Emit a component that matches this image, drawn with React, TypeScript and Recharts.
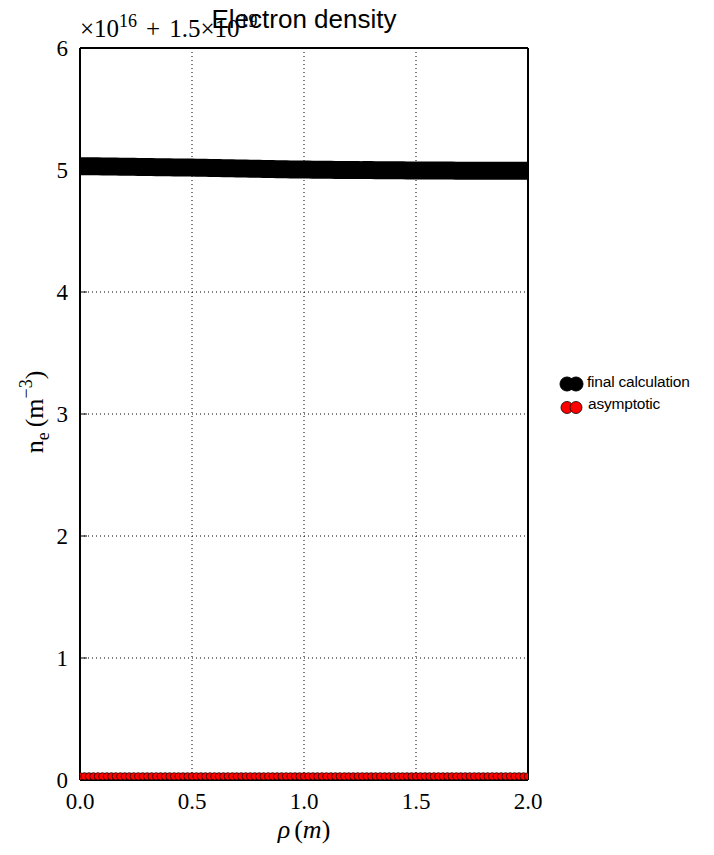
import React from "react";
import { ComposedChart, Line, XAxis, YAxis, CartesianGrid, Legend } from "recharts";

// radius grid (m)
const rho = [
  0, 0.02, 0.04, 0.06, 0.08, 0.1, 0.12, 0.14, 0.16, 0.18,
  0.2, 0.22, 0.24, 0.26, 0.28, 0.3, 0.32, 0.34, 0.36, 0.38,
  0.4, 0.42, 0.44, 0.46, 0.48, 0.5, 0.52, 0.54, 0.56, 0.58,
  0.6, 0.62, 0.64, 0.66, 0.68, 0.7, 0.72, 0.74, 0.76, 0.78,
  0.8, 0.82, 0.84, 0.86, 0.88, 0.9, 0.92, 0.94, 0.96, 0.98,
  1, 1.02, 1.04, 1.06, 1.08, 1.1, 1.12, 1.14, 1.16, 1.18,
  1.2, 1.22, 1.24, 1.26, 1.28, 1.3, 1.32, 1.34, 1.36, 1.38,
  1.4, 1.42, 1.44, 1.46, 1.48, 1.5, 1.52, 1.54, 1.56, 1.58,
  1.6, 1.62, 1.64, 1.66, 1.68, 1.7, 1.72, 1.74, 1.76, 1.78,
  1.8, 1.82, 1.84, 1.86, 1.88, 1.9, 1.92, 1.94, 1.96, 1.98,
  2,
];

// n_e - 1.5e19, in units of 1e16 m^-3
const finalCalculation = [
  5.031, 5.031, 5.03, 5.03, 5.03, 5.029, 5.029, 5.028, 5.028, 5.027,
  5.027, 5.026, 5.026, 5.025, 5.025, 5.024, 5.024, 5.023, 5.023, 5.022,
  5.022, 5.021, 5.021, 5.02, 5.02, 5.02, 5.019, 5.018, 5.018, 5.017,
  5.016, 5.016, 5.015, 5.014, 5.014, 5.013, 5.012, 5.012, 5.011, 5.01,
  5.01, 5.009, 5.008, 5.008, 5.007, 5.006, 5.006, 5.005, 5.005, 5.004,
  5.004, 5.004, 5.003, 5.003, 5.003, 5.002, 5.002, 5.001, 5.001, 5.001,
  5.0, 5.0, 5.0, 4.999, 4.999, 4.999, 4.998, 4.998, 4.998, 4.997,
  4.997, 4.997, 4.997, 4.996, 4.996, 4.996, 4.996, 4.996, 4.995, 4.995,
  4.995, 4.995, 4.995, 4.995, 4.994, 4.994, 4.994, 4.994, 4.994, 4.994,
  4.994, 4.994, 4.993, 4.993, 4.993, 4.993, 4.993, 4.993, 4.993, 4.993,
  4.993,
];

const asymptotic = [
  0.03, 0.03, 0.03, 0.03, 0.03, 0.03, 0.03, 0.03, 0.03, 0.03,
  0.03, 0.03, 0.03, 0.03, 0.03, 0.03, 0.03, 0.03, 0.03, 0.03,
  0.03, 0.03, 0.03, 0.03, 0.03, 0.03, 0.03, 0.03, 0.03, 0.03,
  0.03, 0.03, 0.03, 0.03, 0.03, 0.03, 0.03, 0.03, 0.03, 0.03,
  0.03, 0.03, 0.03, 0.03, 0.03, 0.03, 0.03, 0.03, 0.03, 0.03,
  0.03, 0.03, 0.03, 0.03, 0.03, 0.03, 0.03, 0.03, 0.03, 0.03,
  0.03, 0.03, 0.03, 0.03, 0.03, 0.03, 0.03, 0.03, 0.03, 0.03,
  0.03, 0.03, 0.03, 0.03, 0.03, 0.03, 0.03, 0.03, 0.03, 0.03,
  0.03, 0.03, 0.03, 0.03, 0.03, 0.03, 0.03, 0.03, 0.03, 0.03,
  0.03, 0.03, 0.03, 0.03, 0.03, 0.03, 0.03, 0.03, 0.03, 0.03,
  0.03,
];

const xTicks = [0, 0.5, 1, 1.5, 2];
const yTicks = [0, 1, 2, 3, 4, 5, 6];
const seriesNames = ["final calculation", "asymptotic"];

const data = rho.map((r, i) => ({
  rho: r,
  final: finalCalculation[i],
  asymptotic: asymptotic[i],
}));

const MATH = "'Liberation Serif', 'Times New Roman', serif";
const SANS = "'Liberation Sans', Arial, sans-serif";

function YLabel() {
  return (
    <text
      x={43}
      y={412}
      transform="rotate(-90 43 412)"
      textAnchor="middle"
      fontFamily={MATH}
      fontSize={26}
      fill="#000"
    >
      n
      <tspan fontSize={18} dy={6}>e</tspan>
      <tspan dy={-6} dx={5}>(m</tspan>
      <tspan fontSize={18} dy={-11}>−3</tspan>
      <tspan dy={11}>)</tspan>
    </text>
  );
}

function XLabel() {
  return (
    <text x={304} y={838} textAnchor="middle" fontFamily={MATH} fontSize={26} fill="#000">
      <tspan fontStyle="italic">ρ</tspan>
      <tspan dx={4}>(</tspan>
      <tspan fontStyle="italic">m</tspan>)
    </text>
  );
}

function renderLegend() {
  return (
    <svg width={160} height={46} style={{ overflow: "visible" }}>
      <circle cx={12} cy={12} r={7} fill="#000" stroke="#000" />
      <circle cx={21} cy={12} r={7} fill="#000" stroke="#000" />
      <text x={32} y={14.5} fontFamily={SANS} fontSize={15.5} letterSpacing={-0.2} fill="#000">
        {seriesNames[0]}
      </text>
      <circle cx={12} cy={35.5} r={6} fill="#ff0000" stroke="#000" strokeWidth={0.8} />
      <circle cx={21} cy={35.5} r={6} fill="#ff0000" stroke="#000" strokeWidth={0.8} />
      <text x={33} y={37} fontFamily={SANS} fontSize={15.5} letterSpacing={-0.2} fill="#000">
        {seriesNames[1]}
      </text>
    </svg>
  );
}

export default function App() {
  const tickStyle = { fontFamily: MATH, fontSize: 23, fill: "#000" };
  return (
    <div style={{ position: "absolute", left: 0, top: 0, width: 714, height: 855, background: "#fff" }}>
      <ComposedChart
        width={714}
        height={855}
        data={data}
        margin={{ top: 47, right: 185, bottom: 35, left: 20 }}
      >
        <CartesianGrid stroke="#000" strokeWidth={1} strokeDasharray="1 3" />
        <XAxis
          dataKey="rho"
          type="number"
          domain={[0, 2]}
          ticks={xTicks}
          allowDataOverflow
          height={40}
          tickFormatter={(v: number) => v.toFixed(1)}
          tick={tickStyle}
          tickSize={-7}
          tickMargin={20}
          axisLine={{ stroke: "#000", strokeWidth: 2 }}
          tickLine={{ stroke: "#000", strokeWidth: 1 }}
          label={<XLabel />}
        />
        <XAxis
          xAxisId="top"
          orientation="top"
          dataKey="rho"
          type="number"
          domain={[0, 2]}
          ticks={xTicks}
          height={1}
          tick={false}
          tickSize={-7}
          axisLine={{ stroke: "#000", strokeWidth: 2 }}
          tickLine={{ stroke: "#000", strokeWidth: 1 }}
        />
        <YAxis
          type="number"
          domain={[0, 6]}
          ticks={yTicks}
          allowDataOverflow
          width={60}
          tickFormatter={(v: number) => String(v)}
          tick={tickStyle}
          tickSize={-7}
          tickMargin={19}
          axisLine={{ stroke: "#000", strokeWidth: 2 }}
          tickLine={{ stroke: "#000", strokeWidth: 1 }}
          label={<YLabel />}
        />
        <YAxis
          yAxisId="right"
          orientation="right"
          type="number"
          domain={[0, 6]}
          ticks={yTicks}
          width={1}
          tick={false}
          tickSize={-7}
          axisLine={{ stroke: "#000", strokeWidth: 2 }}
          tickLine={{ stroke: "#000", strokeWidth: 1 }}
        />
        <Line
          dataKey="final"
          name={seriesNames[0]}
          type="linear"
          stroke="#000"
          strokeWidth={18}
          dot={false}
          activeDot={false}
          isAnimationActive={false}
        />
        <Line
          dataKey="asymptotic"
          name={seriesNames[1]}
          type="linear"
          stroke="none"
          dot={{ r: 3.7, fill: "#ff0000", stroke: "#000", strokeWidth: 0.7 }}
          activeDot={false}
          isAnimationActive={false}
        />
        <Legend
          layout="vertical"
          align="center"
          verticalAlign="middle"
          content={renderLegend}
          wrapperStyle={{ left: 555, top: 372, width: 160, height: 46 }}
        />
      </ComposedChart>
      <svg
        width={714}
        height={60}
        style={{ position: "absolute", left: 0, top: 0, pointerEvents: "none" }}
      >
        <text x={80} y={37} fontFamily={MATH} fontSize={25} fill="#000">
          ×10
          <tspan fontSize={18} dy={-10}>16</tspan>
          <tspan dy={10} dx={9}>+</tspan>
          <tspan dx={9}>1.5×10</tspan>
          <tspan fontSize={18} dy={-10}>19</tspan>
        </text>
        <text x={304} y={28} textAnchor="middle" fontFamily={SANS} fontSize={26} fill="#000">
          Electron density
        </text>
      </svg>
    </div>
  );
}
